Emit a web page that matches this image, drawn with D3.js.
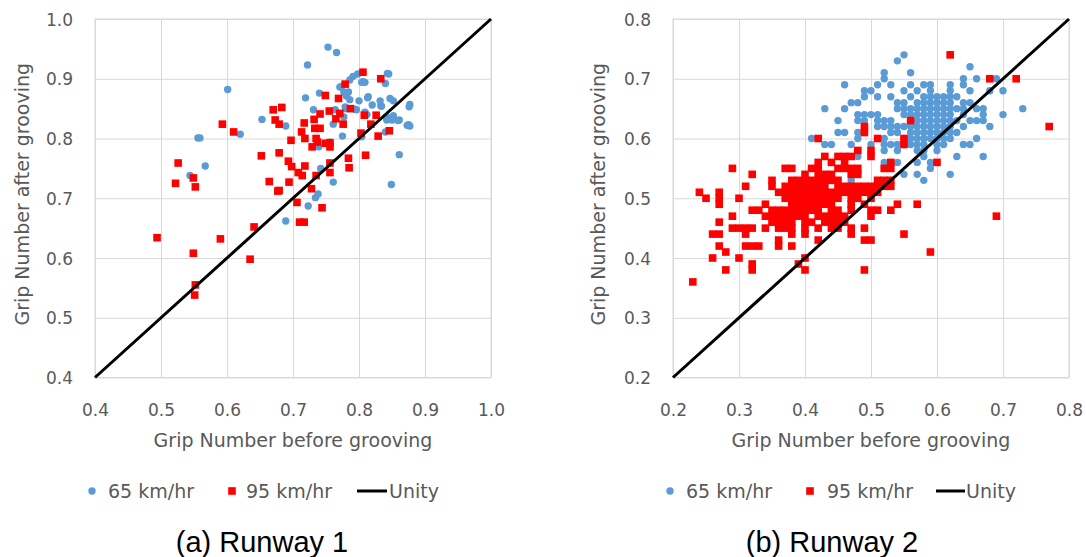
<!DOCTYPE html>
<html><head><meta charset="utf-8">
<script src="https://cdn.jsdelivr.net/npm/d3@7"></script>
<style>body{margin:0;background:#fff}svg{display:block}</style>
</head><body>
<svg id="c" width="1086" height="557"></svg>
<script>
// ---------- DATA ----------
const ticksR1 = [0.4,0.5,0.6,0.7,0.8,0.9,1.0];
const ticksR2 = [0.2,0.3,0.4,0.5,0.6,0.7,0.8];
const unityR1 = [[0.4,0.4],[1.0,1.0]];
const unityR2 = [[0.2,0.2],[0.8,0.8]];
const legendLabels = ["65 km/hr","95 km/hr","Unity"];
const captions = ["(a) Runway 1","(b) Runway 2"];
const xTitle = "Grip Number before grooving";
const yTitle = "Grip Number after grooving";

const runway1_65 = [[0.753,0.953],[0.766,0.944],[0.722,0.923],[0.845,0.908],[0.791,0.904],[0.798,0.908],[0.804,0.894],[0.809,0.894],[0.786,0.898],[0.840,0.892],[0.771,0.886],[0.777,0.878],[0.784,0.878],[0.740,0.876],[0.719,0.868],[0.781,0.871],[0.786,0.865],[0.800,0.863],[0.813,0.868],[0.820,0.856],[0.832,0.863],[0.834,0.854],[0.847,0.867],[0.852,0.863],[0.877,0.857],[0.876,0.853],[0.731,0.848],[0.780,0.850],[0.796,0.848],[0.809,0.844],[0.812,0.840],[0.777,0.836],[0.842,0.836],[0.852,0.838],[0.842,0.831],[0.850,0.831],[0.861,0.831],[0.873,0.822],[0.877,0.821],[0.653,0.832],[0.601,0.882],[0.689,0.821],[0.761,0.824],[0.620,0.807],[0.775,0.804],[0.804,0.803],[0.840,0.811],[0.556,0.801],[0.559,0.801],[0.756,0.794],[0.739,0.786],[0.861,0.773],[0.567,0.754],[0.544,0.738],[0.742,0.750],[0.761,0.727],[0.849,0.723],[0.738,0.707],[0.734,0.701],[0.723,0.687],[0.689,0.662],[0.764,0.848],[0.779,0.853],[0.794,0.849],[0.773,0.887],[0.806,0.895],[0.843,0.909],[0.814,0.870],[0.833,0.855],[0.859,0.830],[0.875,0.823]];

const runway1_95 = [[0.806,0.911],[0.833,0.900],[0.779,0.891],[0.749,0.872],[0.769,0.867],[0.683,0.852],[0.670,0.848],[0.755,0.846],[0.741,0.841],[0.787,0.850],[0.771,0.842],[0.765,0.833],[0.808,0.839],[0.826,0.839],[0.732,0.832],[0.673,0.831],[0.679,0.824],[0.717,0.826],[0.776,0.824],[0.818,0.824],[0.593,0.824],[0.610,0.811],[0.733,0.817],[0.741,0.817],[0.713,0.811],[0.803,0.809],[0.846,0.813],[0.829,0.804],[0.718,0.800],[0.697,0.797],[0.735,0.800],[0.737,0.794],[0.749,0.792],[0.756,0.793],[0.729,0.786],[0.756,0.786],[0.679,0.776],[0.652,0.771],[0.810,0.772],[0.784,0.767],[0.526,0.759],[0.693,0.762],[0.756,0.759],[0.698,0.753],[0.718,0.754],[0.785,0.751],[0.708,0.743],[0.714,0.738],[0.756,0.743],[0.735,0.738],[0.549,0.734],[0.552,0.719],[0.522,0.725],[0.664,0.728],[0.694,0.727],[0.679,0.713],[0.677,0.712],[0.728,0.716],[0.706,0.693],[0.744,0.684],[0.710,0.660],[0.717,0.660],[0.641,0.652],[0.494,0.634],[0.590,0.632],[0.549,0.608],[0.635,0.598],[0.552,0.555],[0.551,0.538]];

const runway2_65 = [[0.55,0.74],[0.54,0.73],[0.52,0.71],[0.52,0.70],[0.56,0.71],[0.65,0.72],[0.64,0.70],[0.66,0.70],[0.69,0.70],[0.68,0.68],[0.70,0.68],[0.73,0.65],[0.70,0.64],[0.68,0.62],[0.67,0.57],[0.66,0.60],[0.62,0.54],[0.58,0.53],[0.63,0.57],[0.65,0.59],[0.64,0.59],
[0.46,0.69],[0.43,0.65],[0.46,0.65],[0.45,0.63],[0.45,0.61],[0.46,0.61],[0.41,0.60],[0.43,0.59],[0.44,0.59],[0.47,0.59],[0.47,0.66],[0.48,0.66],[0.49,0.68],[0.50,0.68],[0.49,0.67],[0.51,0.67],[0.51,0.69],[0.53,0.67],[0.53,0.69],[0.48,0.64],[0.49,0.64],[0.50,0.64],[0.51,0.64],[0.48,0.63],[0.49,0.63],[0.51,0.63],[0.52,0.63],[0.53,0.63],[0.51,0.62],[0.52,0.62],[0.53,0.62],[0.54,0.62],[0.55,0.62],[0.48,0.61],[0.48,0.60],[0.48,0.57],[0.50,0.59],[0.52,0.60],[0.52,0.59],[0.52,0.58],[0.52,0.56],[0.54,0.58],[0.54,0.56],[0.53,0.59],[0.54,0.59],[0.53,0.61],[0.54,0.61],[0.55,0.59],[0.55,0.54],[0.57,0.54],[0.57,0.56],[0.59,0.56],[0.59,0.55],[0.58,0.57],[0.47,0.53],
[0.56,0.69],[0.58,0.69],[0.59,0.69],[0.62,0.69],[0.64,0.69],
[0.55,0.68],[0.57,0.68],[0.59,0.68],[0.62,0.68],[0.65,0.68],
[0.56,0.67],[0.58,0.67],[0.59,0.67],[0.60,0.67],[0.61,0.67],[0.62,0.67],[0.63,0.67],
[0.54,0.66],[0.55,0.66],[0.57,0.66],[0.58,0.66],[0.59,0.66],[0.60,0.66],[0.61,0.66],[0.62,0.66],[0.64,0.66],[0.65,0.66],
[0.54,0.65],[0.55,0.65],[0.56,0.65],[0.57,0.65],[0.58,0.65],[0.59,0.65],[0.60,0.65],[0.61,0.65],[0.62,0.65],[0.63,0.65],[0.64,0.65],[0.66,0.65],[0.67,0.65],
[0.55,0.64],[0.56,0.64],[0.57,0.64],[0.58,0.64],[0.59,0.64],[0.60,0.64],[0.61,0.64],[0.62,0.64],[0.64,0.64],[0.67,0.64],
[0.57,0.63],[0.58,0.63],[0.59,0.63],[0.60,0.63],[0.61,0.63],[0.62,0.63],[0.63,0.63],[0.65,0.63],[0.66,0.63],[0.67,0.63],
[0.56,0.62],[0.57,0.62],[0.58,0.62],[0.59,0.62],[0.60,0.62],[0.61,0.62],[0.62,0.62],[0.64,0.62],
[0.56,0.61],[0.57,0.61],[0.58,0.61],[0.59,0.61],[0.60,0.61],[0.61,0.61],[0.62,0.61],[0.63,0.61],
[0.55,0.60],[0.56,0.60],[0.57,0.60],[0.58,0.60],[0.59,0.60],[0.60,0.60],[0.61,0.60],[0.62,0.60],
[0.56,0.59],[0.57,0.59],[0.58,0.59],[0.60,0.59],[0.61,0.59],
[0.57,0.58],[0.58,0.58],[0.60,0.58]];

const runway2_95 = [[0.62,0.74],[0.68,0.70],[0.72,0.70],[0.56,0.63],[0.77,0.62],[0.49,0.62],[0.49,0.61],[0.42,0.60],[0.51,0.60],[0.55,0.60],[0.55,0.59],[0.48,0.58],[0.50,0.58],[0.50,0.57],[0.60,0.56],[0.69,0.47],[0.59,0.41],[0.57,0.49],[0.55,0.44],[0.49,0.38],[0.23,0.36],
[0.43,0.57],[0.45,0.57],[0.46,0.57],[0.47,0.57],
[0.42,0.56],[0.53,0.56],[0.44,0.56],[0.46,0.56],
[0.29,0.55],[0.37,0.55],[0.38,0.55],[0.41,0.55],[0.42,0.55],[0.45,0.55],[0.46,0.55],[0.47,0.55],[0.48,0.55],[0.52,0.55],[0.53,0.55],
[0.32,0.54],[0.42,0.54],[0.43,0.54],[0.47,0.54],[0.48,0.54],[0.44,0.54],[0.40,0.54],
[0.35,0.53],[0.38,0.53],[0.39,0.53],[0.41,0.53],[0.42,0.53],[0.43,0.53],[0.44,0.53],[0.51,0.53],[0.52,0.53],[0.53,0.53],[0.40,0.53],[0.45,0.53],
[0.31,0.52],[0.35,0.52],[0.37,0.52],[0.38,0.52],[0.39,0.52],[0.40,0.52],[0.41,0.52],[0.42,0.52],[0.43,0.52],[0.45,0.52],[0.46,0.52],[0.47,0.52],[0.48,0.52],[0.49,0.52],[0.50,0.52],[0.51,0.52],[0.52,0.52],[0.53,0.52],
[0.24,0.51],[0.27,0.51],[0.36,0.51],[0.37,0.51],[0.38,0.51],[0.39,0.51],[0.41,0.51],[0.42,0.51],[0.44,0.51],[0.45,0.51],[0.46,0.51],[0.47,0.51],[0.48,0.51],[0.49,0.51],[0.50,0.51],[0.51,0.51],[0.40,0.51],[0.43,0.51],
[0.25,0.50],[0.27,0.50],[0.30,0.50],[0.37,0.50],[0.38,0.50],[0.39,0.50],[0.40,0.50],[0.41,0.50],[0.43,0.50],[0.44,0.50],[0.47,0.50],[0.48,0.50],[0.50,0.50],[0.42,0.50],[0.45,0.50],
[0.27,0.49],[0.34,0.49],[0.38,0.49],[0.39,0.49],[0.41,0.49],[0.42,0.49],[0.44,0.49],[0.47,0.49],[0.49,0.49],[0.54,0.49],[0.40,0.49],[0.43,0.49],
[0.32,0.48],[0.33,0.48],[0.35,0.48],[0.36,0.48],[0.37,0.48],[0.38,0.48],[0.40,0.48],[0.41,0.48],[0.44,0.48],[0.45,0.48],[0.47,0.48],[0.50,0.48],[0.51,0.48],[0.53,0.48],[0.39,0.48],[0.42,0.48],
[0.29,0.47],[0.34,0.47],[0.35,0.47],[0.36,0.47],[0.37,0.47],[0.38,0.47],[0.39,0.47],[0.40,0.47],[0.42,0.47],[0.43,0.47],[0.44,0.47],[0.45,0.47],[0.46,0.47],[0.50,0.47],
[0.27,0.46],[0.35,0.46],[0.36,0.46],[0.37,0.46],[0.38,0.46],[0.40,0.46],[0.41,0.46],[0.43,0.46],[0.44,0.46],[0.45,0.46],[0.46,0.46],
[0.29,0.45],[0.30,0.45],[0.31,0.45],[0.32,0.45],[0.34,0.45],[0.36,0.45],[0.37,0.45],[0.38,0.45],[0.40,0.45],[0.42,0.45],[0.44,0.45],[0.45,0.45],[0.47,0.45],[0.49,0.45],
[0.26,0.44],[0.27,0.44],[0.31,0.44],[0.38,0.44],[0.40,0.44],[0.47,0.44],
[0.36,0.43],[0.42,0.43],[0.49,0.43],[0.50,0.43],
[0.27,0.42],[0.31,0.42],[0.32,0.42],[0.33,0.42],[0.36,0.42],[0.38,0.42],
[0.28,0.41],
[0.26,0.40],[0.30,0.40],[0.40,0.40],
[0.32,0.39],[0.39,0.39],
[0.28,0.38],[0.32,0.38],[0.40,0.38]];

// ---------- LAYOUT ----------
const svg = d3.select("#c");
const plotTop = 19, plotBottom = 377.5;
const panels = [
  {x0:95, x1:491, dom:[0.4,1.0], ticks:ticksR1, s65:runway1_65, s95:runway1_95, unity:unityR1, cap:captions[0], capX:262,
   leg:{c:92, t1:108, s:232, t2:246, l0:357, l1:387, t3:389}, yTitleX:22},
  {x0:673, x1:1069, dom:[0.2,0.8], ticks:ticksR2, s65:runway2_65, s95:runway2_95, unity:unityR2, cap:captions[1], capX:832,
   leg:{c:670, t1:686, s:810, t2:827, l0:936, l1:965, t3:966}, yTitleX:598}
];
const BLUE = "#5b9bd5", RED = "#ff0000", GRID = "#d9d9d9";
const FONT = "'DejaVu Sans', sans-serif";
const SQ = 7.6, CR = 3.7;

panels.forEach(p => {
  const x = d3.scaleLinear().domain(p.dom).range([p.x0, p.x1]);
  const y = d3.scaleLinear().domain(p.dom).range([plotBottom, plotTop]);
  const g = svg.append("g");

  g.append("g").attr("transform", `translate(0,${plotBottom})`)
    .call(d3.axisBottom(x).tickValues(p.ticks).tickSize(-(plotBottom-plotTop)).tickFormat(""))
    .call(a => { a.select(".domain").remove(); a.selectAll("line").attr("stroke", GRID).attr("stroke-width",1); });
  g.append("g").attr("transform", `translate(${p.x0},0)`)
    .call(d3.axisLeft(y).tickValues(p.ticks).tickSize(-(p.x1-p.x0)).tickFormat(""))
    .call(a => { a.select(".domain").remove(); a.selectAll("line").attr("stroke", GRID).attr("stroke-width",1); });
  g.append("rect").attr("x", p.x0).attr("y", plotTop).attr("width", p.x1-p.x0).attr("height", plotBottom-plotTop)
    .attr("fill","none").attr("stroke", GRID).attr("stroke-width",1);

  g.append("g").attr("transform", `translate(0,${plotBottom})`)
    .call(d3.axisBottom(x).tickValues(p.ticks).tickSize(0).tickPadding(0).tickFormat(d3.format(".1f")))
    .call(a => { a.select(".domain").remove();
      a.selectAll("text").attr("y", 38).attr("dy", 0).attr("fill","#595959").style("font-family",FONT).style("font-size","17px"); });
  g.append("g").attr("transform", `translate(${p.x0},0)`)
    .call(d3.axisLeft(y).tickValues(p.ticks).tickSize(0).tickPadding(0).tickFormat(d3.format(".1f")))
    .call(a => { a.select(".domain").remove();
      a.selectAll("text").attr("x", -22).attr("dy", "0.36em").attr("fill","#595959").style("font-family",FONT).style("font-size","17px"); });

  g.append("text").attr("x", (p.x0+p.x1)/2).attr("y", 447).attr("text-anchor","middle")
    .attr("fill","#595959").style("font-family",FONT).style("font-size","19px").text(xTitle);
  g.append("text").attr("transform", `translate(${p.yTitleX},${(plotTop+plotBottom)/2 - 4}) rotate(-90)`)
    .attr("text-anchor","middle").attr("dy","0.36em")
    .attr("fill","#595959").style("font-family",FONT).style("font-size","19px").text(yTitle);

  g.append("g").selectAll("circle").data(p.s65).join("circle")
    .attr("cx", d => x(d[0])).attr("cy", d => y(d[1])).attr("r", CR).attr("fill", BLUE);
  g.append("g").selectAll("rect").data(p.s95).join("rect")
    .attr("x", d => x(d[0]) - SQ/2).attr("y", d => y(d[1]) - SQ/2).attr("width", SQ).attr("height", SQ).attr("fill", RED);
  g.append("path").datum(p.unity)
    .attr("d", d3.line().x(d => x(d[0])).y(d => y(d[1])))
    .attr("stroke","#000").attr("stroke-width",3).attr("fill","none");

  const ly = 491, L = p.leg;
  g.append("circle").attr("cx", L.c).attr("cy", ly).attr("r", CR).attr("fill", BLUE);
  g.append("rect").attr("x", L.s-SQ/2).attr("y", ly-SQ/2).attr("width",SQ).attr("height",SQ).attr("fill", RED);
  g.append("line").attr("x1", L.l0).attr("x2", L.l1).attr("y1", ly).attr("y2", ly).attr("stroke","#000").attr("stroke-width",3);
  [[L.t1,legendLabels[0]],[L.t2,legendLabels[1]],[L.t3,legendLabels[2]]].forEach(([tx,t]) => {
    g.append("text").attr("x", tx).attr("y", ly).attr("dy","0.36em").attr("fill","#595959")
      .style("font-family",FONT).style("font-size","19px").text(t);
  });

  g.append("text").attr("x", p.capX).attr("y", 552).attr("text-anchor","middle").attr("fill","#000")
    .style("font-family","'Liberation Sans', Arial, sans-serif").style("font-size","29px").text(p.cap);
});
</script>
</body></html>
